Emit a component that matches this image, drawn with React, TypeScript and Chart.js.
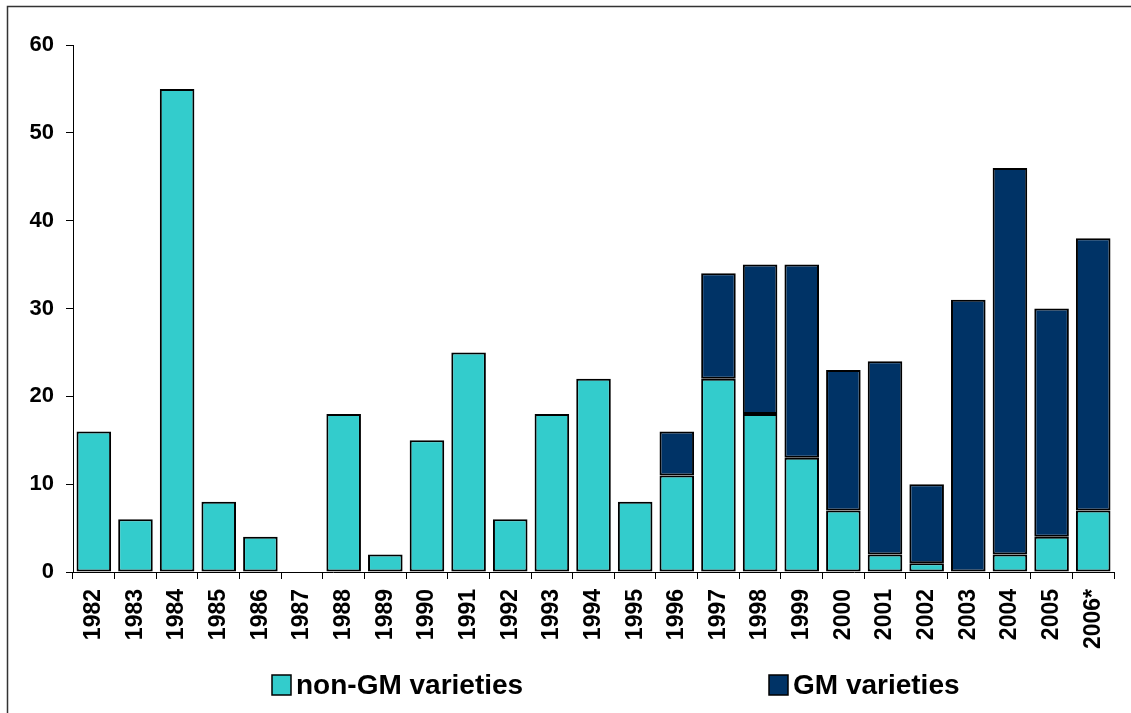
import React, { useEffect, useRef } from "react";
import { Chart, registerables } from "chart.js";

Chart.register(...registerables);

const years = ["1982","1983","1984","1985","1986","1987","1988","1989","1990","1991","1992","1993","1994","1995","1996","1997","1998","1999","2000","2001","2002","2003","2004","2005","2006*"];
const nonGM = [16, 6, 55, 8, 4, 0, 18, 2, 15, 25, 6, 18, 22, 8, 11, 22, 18, 13, 7, 2, 1, 0, 2, 4, 7];
const gm = [null, null, null, null, null, null, null, null, null, null, null, null, null, null, 5, 12, 17, 22, 16, 22, 9, 31, 44, 26, 31];
const yTicks = [0, 10, 20, 30, 40, 50, 60];
const seriesNames = ["non-GM varieties", "GM varieties"];
const seriesColors = ["#33CCCC", "#003366"];

const FONT = "'Liberation Sans', Arial, sans-serif";

const framePlugin = {
  id: "frame",
  beforeDraw(chart: any) {
    const ctx = chart.ctx;
    ctx.save();
    ctx.fillStyle = "#ffffff";
    ctx.fillRect(0, 0, chart.width, chart.height);
    ctx.strokeStyle = "#333333";
    ctx.lineWidth = 1.5;
    ctx.strokeRect(7.5, 6.5, chart.width + 20, chart.height + 20);
    ctx.restore();
  },
  afterDraw(chart: any) {
    const ctx = chart.ctx;
    const area = chart.chartArea;
    ctx.save();
    ctx.font = `bold 28px ${FONT}`;
    ctx.textBaseline = "middle";
    const cy = area.bottom + 113;
    const starts = [area.left + 199, area.left + 696];
    seriesNames.forEach((name, i) => {
      const x = starts[i];
      ctx.fillStyle = seriesColors[i];
      ctx.fillRect(x, cy - 10, 19, 20);
      ctx.strokeStyle = "#000";
      ctx.lineWidth = 1.5;
      ctx.strokeRect(x, cy - 10, 19, 20);
      ctx.fillStyle = "#000";
      ctx.fillText(name, x + 24, cy + 1);
    });
    ctx.restore();
  },
};

export default function App() {
  const ref = useRef<HTMLCanvasElement | null>(null);
  useEffect(() => {
    if (!ref.current) return;
    const chart = new Chart(ref.current, {
      type: "bar",
      data: {
        labels: years,
        datasets: [
          {
            label: seriesNames[0],
            data: nonGM,
            backgroundColor: seriesColors[0],
            borderColor: "#000",
            borderWidth: 2,
            borderSkipped: false,
            categoryPercentage: 1,
            barPercentage: 0.83,
          },
          {
            label: seriesNames[1],
            data: gm as any,
            backgroundColor: seriesColors[1],
            borderColor: "#000",
            borderWidth: 2,
            borderSkipped: false,
            categoryPercentage: 1,
            barPercentage: 0.83,
          },
        ],
      },
      options: {
        responsive: false,
        animation: false,
        layout: { padding: { top: 45, right: 9, left: 0, bottom: 0 } },
        plugins: { legend: { display: false }, tooltip: { enabled: false } },
        scales: {
          x: {
            stacked: true,
            offset: true,
            grid: { display: true, offset: true, drawOnChartArea: false, drawTicks: true, tickLength: 7, color: "#000", lineWidth: 1 },
            border: { display: true, color: "#000", width: 1 },
            ticks: {
              minRotation: 90,
              maxRotation: 90,
              autoSkip: false,
              padding: 10,
              color: "#000",
              font: { family: FONT, size: 23, weight: "bold" },
            },
            afterFit(scale: any) {
              scale.height = 141;
            },
          },
          y: {
            stacked: true,
            min: 0,
            max: 60,
            afterBuildTicks(scale: any) {
              scale.ticks = yTicks.map((v) => ({ value: v }));
            },
            grid: { display: true, drawOnChartArea: false, drawTicks: true, tickLength: 7, color: "#000", lineWidth: 1 },
            border: { display: true, color: "#000", width: 1 },
            ticks: {
              padding: 12,
              color: "#000",
              font: { family: FONT, size: 22, weight: "bold" },
            },
            afterFit(scale: any) {
              scale.width = 73;
            },
          },
        },
      },
      plugins: [framePlugin],
    });
    return () => chart.destroy();
  }, []);
  return (
    <div style={{ position: "absolute", left: 0, top: 0, width: 1131, height: 713 }}>
      <canvas ref={ref} width={1131} height={713} style={{ display: "block", width: 1131, height: 713 }} />
    </div>
  );
}
